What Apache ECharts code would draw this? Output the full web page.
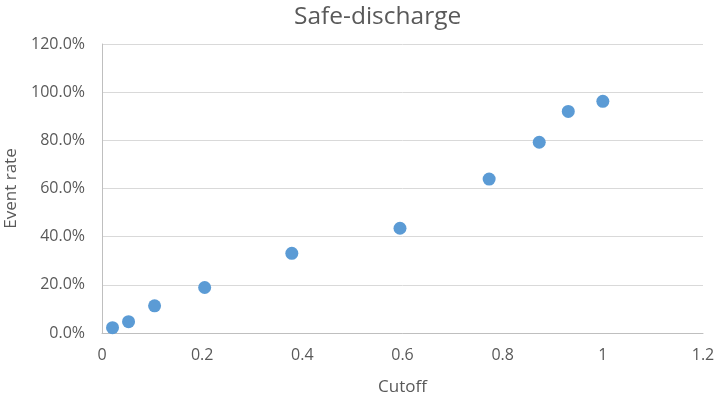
<!DOCTYPE html>
<html>
<head>
<meta charset="utf-8">
<script src="https://cdn.jsdelivr.net/npm/echarts@6/dist/echarts.min.js"></script>
<style>
  html, body { margin: 0; padding: 0; background: #fff; }
  #chart { width: 718px; height: 398px; }
</style>
</head>
<body>
<div id="chart"></div>
<script>
// cutoff vs event rate (%)
const cutoff = [0.021, 0.053, 0.105, 0.205, 0.379, 0.595, 0.773, 0.873, 0.931, 1.0];
const eventRate = [2.2, 4.7, 11.3, 18.9, 33.1, 43.5, 63.9, 79.2, 92.0, 96.2];

const points = cutoff.map((c, i) => [c, eventRate[i]]);
const font = "'Open Sans', 'Liberation Sans', sans-serif";
const textColor = "#595959";

const chart = echarts.init(document.getElementById("chart"));
chart.setOption({
  animation: false,
  title: {
    text: "Safe-discharge",
    left: 289,
    top: 0,
    textStyle: { fontFamily: font, fontSize: 24.5, fontWeight: "normal", color: textColor }
  },
  grid: { left: 102, right: 15, top: 44, bottom: 65, outerBoundsMode: "none" },
  xAxis: {
    type: "value",
    min: 0,
    max: 1.2,
    interval: 0.2,
    name: "Cutoff",
    nameLocation: "middle",
    nameGap: 46,
    nameTextStyle: { fontFamily: font, fontSize: 17, color: textColor },
    axisLine: { show: true, lineStyle: { color: "#BFBFBF" } },
    axisTick: { show: false },
    splitLine: { show: false },
    axisLabel: {
      fontFamily: font, fontSize: 16, color: textColor, margin: 14,
      formatter: v => String(Math.round(v * 10) / 10)
    }
  },
  yAxis: {
    type: "value",
    min: 0,
    max: 120,
    interval: 20,
    name: "Event rate",
    nameLocation: "middle",
    nameGap: 82,
    nameTextStyle: { fontFamily: font, fontSize: 17, color: textColor },
    axisLine: { show: true, lineStyle: { color: "#BFBFBF" } },
    axisTick: { show: false },
    splitLine: { lineStyle: { color: "#D9D9D9" } },
    axisLabel: {
      fontFamily: font, fontSize: 16, color: textColor, margin: 17,
      formatter: v => v.toFixed(1) + "%"
    }
  },
  series: [{
    type: "scatter",
    data: points,
    symbolSize: 13,
    itemStyle: { color: "#5B9BD5", opacity: 1 }
  }]
});
</script>
</body>
</html>
